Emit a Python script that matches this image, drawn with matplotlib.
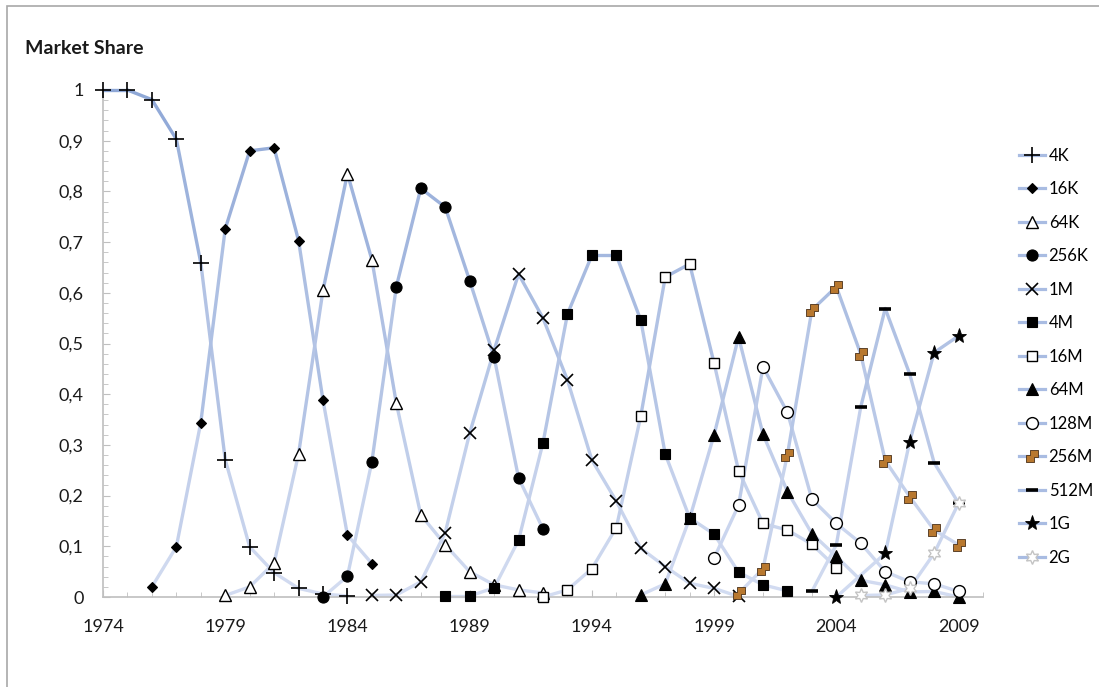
import matplotlib.pyplot as plt
import matplotlib.colors as mcolors
from matplotlib.collections import LineCollection
from matplotlib.lines import Line2D
from matplotlib.patches import Rectangle
from matplotlib.path import Path
import numpy as np

# market share per DRAM generation (start year + yearly values)
years_4k = list(range(1974, 1985))
share_4k = [1.0, 1.0, 0.981, 0.903, 0.659, 0.271, 0.099, 0.048, 0.017, 0.006, 0.002]
years_16k = list(range(1976, 1986))
share_16k = [0.02, 0.099, 0.344, 0.726, 0.880, 0.886, 0.703, 0.388, 0.122, 0.066]
years_64k = list(range(1979, 1993))
share_64k = [0.003, 0.02, 0.067, 0.282, 0.605, 0.835, 0.665, 0.382, 0.162, 0.103,
             0.050, 0.024, 0.014, 0.008]
years_256k = list(range(1983, 1993))
share_256k = [0.0, 0.041, 0.267, 0.612, 0.806, 0.769, 0.624, 0.473, 0.235, 0.134]
years_1m = list(range(1985, 2001))
share_1m = [0.003, 0.004, 0.030, 0.127, 0.323, 0.487, 0.637, 0.550, 0.428, 0.270,
            0.189, 0.096, 0.060, 0.027, 0.017, 0.001]
years_4m = list(range(1988, 2003))
share_4m = [0.002, 0.002, 0.018, 0.112, 0.304, 0.558, 0.674, 0.674, 0.546, 0.282,
            0.156, 0.124, 0.049, 0.024, 0.012]
years_16m = list(range(1992, 2005))
share_16m = [0.0, 0.014, 0.056, 0.137, 0.357, 0.631, 0.657, 0.461, 0.249, 0.145,
             0.132, 0.104, 0.058]
years_64m = list(range(1996, 2010))
share_64m = [0.004, 0.026, 0.155, 0.320, 0.513, 0.321, 0.208, 0.125, 0.080, 0.033,
             0.024, 0.010, 0.011, 0.0]
years_128m = list(range(1999, 2010))
share_128m = [0.077, 0.181, 0.454, 0.364, 0.193, 0.145, 0.106, 0.050, 0.030, 0.026, 0.011]
years_256m = list(range(2000, 2010))
share_256m = [0.007, 0.056, 0.281, 0.566, 0.612, 0.479, 0.269, 0.198, 0.132, 0.103]
years_512m = list(range(2003, 2010))
share_512m = [0.011, 0.103, 0.375, 0.569, 0.440, 0.265, 0.185]
years_1g = [2004, 2006, 2007, 2008, 2009]
share_1g = [0.0, 0.086, 0.306, 0.482, 0.515]
years_2g = list(range(2005, 2010))
share_2g = [0.003, 0.004, 0.017, 0.086, 0.185]

labels = ['4K', '16K', '64K', '256K', '1M', '4M', '16M', '64M', '128M', '256M', '512M', '1G', '2G']
x_ticks = [1974, 1979, 1984, 1989, 1994, 1999, 2004, 2009]
y_ticks = [0, 0.1, 0.2, 0.3, 0.4, 0.5, 0.6, 0.7, 0.8, 0.9, 1]

series = [
    (years_4k, share_4k), (years_16k, share_16k), (years_64k, share_64k),
    (years_256k, share_256k), (years_1m, share_1m), (years_4m, share_4m),
    (years_16m, share_16m), (years_64m, share_64m), (years_128m, share_128m),
    (years_256m, share_256m), (years_512m, share_512m), (years_1g, share_1g),
    (years_2g, share_2g),
]

# odd little brown block used by excel for 256M
boot = Path([(-1, -1), (0.3, -1), (0.3, -0.2), (1, -0.2), (1, 1), (-0.3, 1),
             (-0.3, 0.2), (-1, 0.2), (-1, -1)], closed=True)

styles = [
    dict(marker='+', ms=11, mfc='black', mec='black', mew=1.2),
    dict(marker='D', ms=5.5, mfc='black', mec='black', mew=0.8),
    dict(marker='^', ms=8, mfc='white', mec='black', mew=1.0),
    dict(marker='o', ms=8, mfc='black', mec='black', mew=0.8),
    dict(marker='x', ms=9, mfc='black', mec='black', mew=1.2),
    dict(marker='s', ms=7, mfc='black', mec='black', mew=0.8),
    dict(marker='s', ms=7, mfc='white', mec='black', mew=1.0),
    dict(marker='^', ms=8, mfc='black', mec='black', mew=0.8),
    dict(marker='o', ms=8.5, mfc='white', mec='black', mew=1.0),
    dict(marker=boot, ms=8, mfc='#b8782f', mec='#4a3018', mew=0.6),
    dict(marker='_', ms=9, mfc='black', mec='black', mew=2.6),
    dict(marker='*', ms=11, mfc='black', mec='black', mew=0.6),
    dict(marker=(6, 1, 0), ms=10, mfc='white', mec='#c4c4c4', mew=1.0),
]

plt.rcParams['font.family'] = ['Lato', 'DejaVu Sans']

fig = plt.figure(figsize=(10.99, 6.87), dpi=100)
ax = fig.add_axes([103 / 1099, 90 / 687, 880 / 1099, 507 / 687])

light = np.array(mcolors.to_rgb('#d3dcf1'))
dark = np.array(mcolors.to_rgb('#8ea7d6'))

# lines first, shaded by height like the excel gradient
for xs, ys in series:
    pts = np.column_stack([xs, ys])
    segs = np.stack([pts[:-1], pts[1:]], axis=1)
    mid = (pts[:-1, 1] + pts[1:, 1]) / 2
    cols = [tuple(light + (dark - light) * m) for m in mid]
    lc = LineCollection(segs, colors=cols, linewidths=2.4, capstyle='round',
                        joinstyle='round', zorder=2)
    lc.set_clip_on(False)
    ax.add_collection(lc)

handles = []
for (xs, ys), st, lab in zip(series, styles, labels):
    ax.plot(xs, ys, linestyle='none', zorder=3, clip_on=False, **st)
    handles.append(Line2D([], [], color='#a9bce2', lw=2.3, label=lab, **st))

ax.set_xlim(1974, 2010)
ax.set_ylim(0, 1)
ax.set_xticks(x_ticks)
ax.set_xticks(range(1974, 2011), minor=True)
ax.set_yticks(y_ticks)
ax.set_yticklabels([('%g' % v).replace('.', ',') for v in y_ticks])
ax.set_yticks(np.arange(0, 1.001, 0.02), minor=True)

for s in ['top', 'right']:
    ax.spines[s].set_visible(False)
for s in ['left', 'bottom']:
    ax.spines[s].set_color('#bfbfbf')
    ax.spines[s].set_linewidth(1.2)

ax.tick_params(axis='both', which='both', direction='in', color='#bfbfbf',
               labelsize=13, labelcolor='#1a1a1a')
ax.tick_params(axis='both', which='major', length=5)
ax.tick_params(axis='both', which='minor', length=3.5)
ax.tick_params(axis='x', which='major', pad=16)
ax.tick_params(axis='y', which='major', pad=14)

fig.text(25 / 1099, 1 - 48 / 687, 'Market Share', fontsize=14, fontweight='bold',
         va='center', ha='left', color='#1a1a1a')

fig.legend(handles=handles, loc='upper left', bbox_to_anchor=(1012 / 1099, 1 - 141 / 687),
           frameon=False, fontsize=12, labelspacing=1.05, handlelength=1.6,
           handletextpad=0.2, borderaxespad=0)

# thin grey frame of the chart area
fig.add_artist(Rectangle((6.5 / 1099, -0.1), 1.2, 1.1 - 6.5 / 687, transform=fig.transFigure,
                         fill=False, edgecolor='#a8a8a8', lw=1.2))

fig.savefig('out.png', dpi=100)
